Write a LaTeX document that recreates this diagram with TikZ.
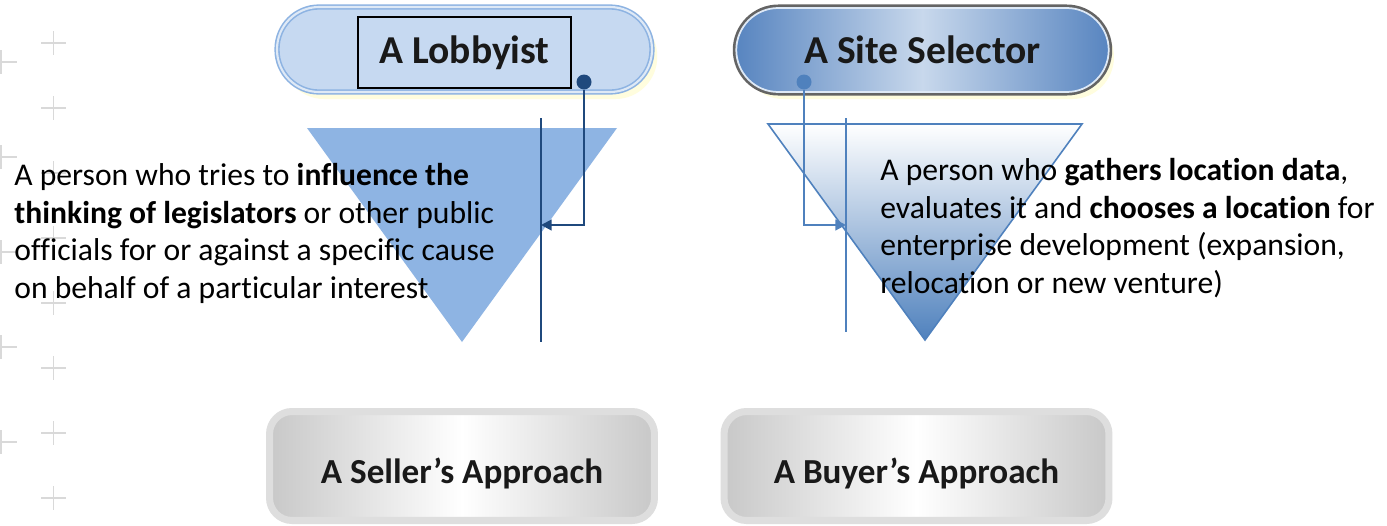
\documentclass[tikz,border=0pt]{standalone}
\usepackage{fontspec}
\setmainfont{Carlito}[Ligatures=CommonOff]
\usetikzlibrary{arrows.meta,shadows}

\definecolor{pillblue}{RGB}{198,217,241}
\definecolor{pillline}{RGB}{141,179,226}
\definecolor{pillgap}{RGB}{222,233,246}
\definecolor{navyline}{RGB}{31,73,125}
\definecolor{accent}{RGB}{79,129,189}
\definecolor{edgeblue}{RGB}{88,133,192}
\definecolor{midblue}{RGB}{200,216,236}
\definecolor{pillrim}{RGB}{100,100,100}
\definecolor{trifill}{RGB}{142,180,227}
\definecolor{boxgray}{RGB}{200,200,200}
\definecolor{boxrim}{RGB}{222,222,222}
\definecolor{glow}{RGB}{255,253,222}
\definecolor{markgray}{RGB}{217,217,217}

\tikzset{
  pill/.style={rounded corners=0.84cm, minimum width=7.45cm, minimum height=1.68cm,
    font=\fontsize{22.5}{27}\selectfont\bfseries, text=black!90,
    drop shadow={shadow xshift=3pt, shadow yshift=-4pt, fill=glow, opacity=1}},
  approach/.style={draw=boxrim, line width=4pt, rounded corners=0.45cm,
    minimum width=7.7cm, minimum height=2.18cm, text height=19.5pt, text depth=0pt,
    left color=boxgray, right color=boxgray, middle color=white,
    font=\fontsize{20}{24}\selectfont\bfseries, text=black!90},
  blurb/.style={anchor=north west, align=left, inner sep=0pt,
    font=\fontsize{18}{21.4}\selectfont},
  pindot/.style={circle, inner sep=0pt, minimum size=0.3cm},
}

\begin{document}
\begin{tikzpicture}[x=0.02cm, y=-0.02cm, >={Triangle[length=6pt,width=6pt]}]
    \path[use as bounding box, fill=white] (0,0) rectangle (1387,525);

    \foreach \y in {43,108,...,498}
        \draw[markgray, line width=0.6pt] (41,\y) -- (66,\y) (53.5,\y-12) -- (53.5,\y+12);
    \foreach \y in {62,157,...,442}
        \draw[markgray, line width=0.6pt] (-9,\y) -- (17,\y) (1,\y-12) -- (1,\y+12);

    \fill[trifill] (307,128) -- (617,128) -- (462,342) -- cycle;
    \draw[accent, line width=0.9pt, top color=white, bottom color=accent]
        (768,124) -- (1082,124) -- (925,340) -- cycle;

    \node[pill, minimum width=7.5cm, minimum height=1.7cm, fill=pillblue, draw=pillline,
        double=pillgap, double distance=1.2pt, line width=0.9pt] (lobby) at (464.5,49.5) {};
    \node[draw=black, line width=1pt, minimum width=4.26cm, minimum height=1.42cm,
        font=\fontsize{22.5}{27}\selectfont\bfseries, text=black!90] (lobbylabel) at (464.5,52.5) {A Lobbyist};
    \node[pill, left color=edgeblue, right color=edgeblue, middle color=midblue,
        preaction={draw=pillrim, line width=4pt}, draw=pillgap, line width=1pt]
        (site) at (922.5,50) {A Site Selector};

    \coordinate (lobbytop) at (541,118);
    \coordinate (lobbybot) at (541,342);
    \coordinate (lobbyhit) at (541,225);
    \coordinate (sitetop) at (846,118);
    \coordinate (sitebot) at (846,332);
    \coordinate (sitehit) at (846,225);
    \draw[navyline, line width=1pt] (lobbytop) -- (lobbybot);
    \draw[accent, line width=1pt] (sitetop) -- (sitebot);

    \node[pindot, fill=navyline] (lobbydot) at (584,82) {};
    \node[pindot, fill=accent] (sitedot) at (804,82) {};
    \draw[->, navyline, line width=1.2pt] (lobbydot) |- (lobbyhit);
    \draw[->, accent, line width=1.2pt] (sitedot) |- (sitehit);

    \node[blurb] (lobbytext) at (14,163)
        {A person who tries to \textbf{influence the}\\
         \textbf{thinking of legislators} or other public\\
         officials for or against a specific cause\\
         on behalf of a particular interest};
    \node[blurb] (sitetext) at (880,158)
        {A person who \textbf{gathers location data},\\
         evaluates it and \textbf{chooses a location} for\\
         enterprise development (expansion,\\
         relocation or new venture)};

    \node[approach] (seller) at (462,466) {A Seller’s Approach};
    \node[approach] (buyer) at (916.5,466) {A Buyer’s Approach};
\end{tikzpicture}
\end{document}
